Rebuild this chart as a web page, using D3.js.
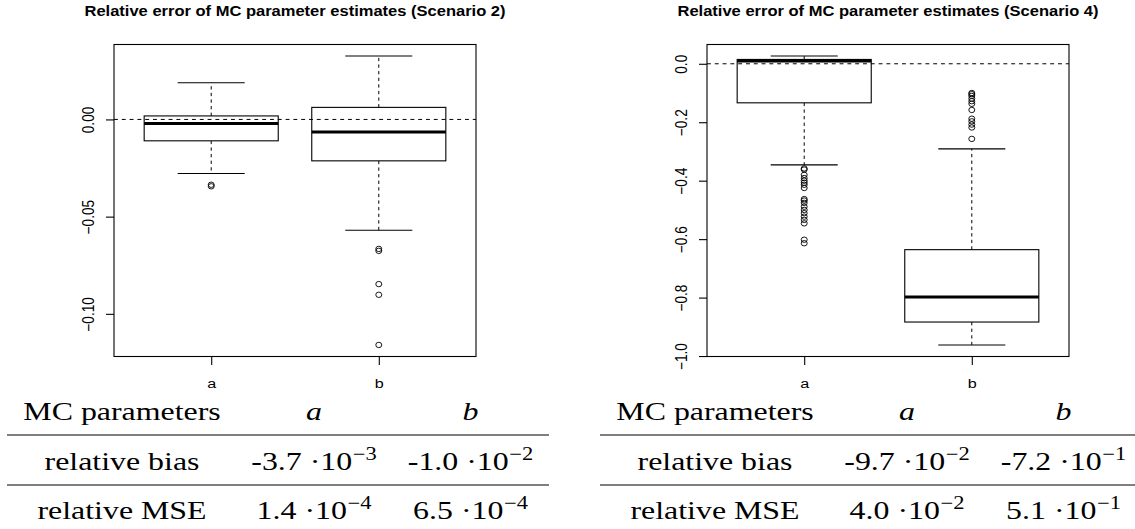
<!DOCTYPE html>
<html><head><meta charset="utf-8">
<script src="https://cdn.jsdelivr.net/npm/d3@7/dist/d3.min.js"></script>
<style>body{margin:0;background:#fff}svg{display:block}</style>
</head><body><svg id="c" width="1135" height="529"></svg>
<script>
// ---------------- data ----------------
const categories = ["a", "b"];
const titles = [
  "Relative error of MC parameter estimates (Scenario 2)",
  "Relative error of MC parameter estimates (Scenario 4)"
];
// box statistics per category: [lower whisker, Q1, median, Q3, upper whisker]
const s2Stats = [
  [-0.0278, -0.0110, -0.0021, 0.0018, 0.0189],
  [-0.0570, -0.0213, -0.0065, 0.0062, 0.0326]
];
const s2Outliers = [
  [-0.0336, -0.0344],
  [-0.0666, -0.0676, -0.0847, -0.0902, -0.1160]
];
const s4Stats = [
  [-0.346, -0.1336, 0.0091, 0.0148, 0.0264],
  [-0.962, -0.8836, -0.798, -0.636, -0.291]
];
const s4Outliers = [
  [-0.358, -0.362, -0.380, -0.391, -0.400, -0.407, -0.414, -0.425, -0.463, -0.468,
   -0.476, -0.489, -0.500, -0.511, -0.523, -0.534, -0.546, -0.602, -0.614],
  [-0.100, -0.104, -0.110, -0.119, -0.128, -0.137, -0.158, -0.188, -0.197, -0.208,
   -0.218, -0.257]
];
const s2Ticks = [0, -0.05, -0.10];
const s4Ticks = [0, -0.2, -0.4, -0.6, -0.8, -1.0];
const s2TickFormat = ".2f";
const s4TickFormat = ".1f";

const tableHeader = ["MC parameters", "a", "b"];
const rowLabels = ["relative bias", "relative MSE"];
// [mantissa, exponent] for a and b
const s2Bias = [["-3.7", "−3"], ["-1.0", "−2"]];
const s2MSE  = [["1.4", "−4"], ["6.5", "−4"]];
const s4Bias = [["-9.7", "−2"], ["-7.2", "−1"]];
const s4MSE  = [["4.0", "−2"], ["5.1", "−1"]];

// ---------------- drawing ----------------
const svg = d3.select("#c");
const SX = 1.18;   // horizontal stretch of the original plot text
const TSX = 1.25;  // horizontal stretch of the table text
const sansFont = "'Liberation Sans', Arial, Helvetica, sans-serif";
const serifFont = "'Liberation Serif', 'Times New Roman', serif";

function panel(x0, stats, outliers, ticks, fmt, title) {
  const L = x0, R = x0 + 362, T = 44.5, B = 356.5;
  const g = svg.append("g");
  const all = stats.flat().concat(outliers.flat());
  const [lo, hi] = d3.extent(all);
  const pad = (hi - lo) * 0.04;
  const y = d3.scaleLinear().domain([lo - pad, hi + pad]).range([B, T]);
  const x = d3.scaleLinear().domain([0.42, 2.58]).range([L, R]);

  categories.forEach((c, i) => {
    const [lw, q1, md, q3, uw] = stats[i];
    const cx = x(i + 1);
    const bg = g.append("g");
    bg.append("line").attr("x1", cx).attr("x2", cx).attr("y1", y(q3)).attr("y2", y(uw))
      .attr("stroke", "#000").attr("stroke-width", 1).attr("stroke-dasharray", "3.3,3.3");
    bg.append("line").attr("x1", cx).attr("x2", cx).attr("y1", y(q1)).attr("y2", y(lw))
      .attr("stroke", "#000").attr("stroke-width", 1).attr("stroke-dasharray", "3.3,3.3");
    [uw, lw].forEach(v => {
      bg.append("line").attr("x1", x(i + 1 - 0.2)).attr("x2", x(i + 1 + 0.2))
        .attr("y1", y(v)).attr("y2", y(v)).attr("stroke", "#000").attr("stroke-width", 1.1);
    });
    bg.append("rect").attr("x", x(i + 1 - 0.4)).attr("y", y(q3))
      .attr("width", x(i + 1 + 0.4) - x(i + 1 - 0.4)).attr("height", y(q1) - y(q3))
      .attr("fill", "#fff").attr("stroke", "#000").attr("stroke-width", 1.1);
    bg.append("line").attr("x1", x(i + 1 - 0.4)).attr("x2", x(i + 1 + 0.4))
      .attr("y1", y(md)).attr("y2", y(md)).attr("stroke", "#000").attr("stroke-width", 3);
    bg.selectAll("ellipse").data(outliers[i]).join("ellipse")
      .attr("cx", cx).attr("cy", d => y(d)).attr("rx", 3.0).attr("ry", 2.7)
      .attr("fill", "none").attr("stroke", "#000").attr("stroke-width", 0.9);
  });

  g.append("line").attr("x1", L).attr("x2", R).attr("y1", y(0)).attr("y2", y(0))
    .attr("stroke", "#000").attr("stroke-width", 1).attr("stroke-dasharray", "3.9,3.9");

  g.append("rect").attr("x", L).attr("y", T).attr("width", R - L).attr("height", B - T)
    .attr("fill", "none").attr("stroke", "#000").attr("stroke-width", 1.1);

  const ya = g.append("g").attr("transform", `translate(${L},0)`)
    .call(d3.axisLeft(y).tickValues(ticks).tickFormat(d3.format(fmt)).tickSize(8).tickSizeOuter(0));
  ya.select(".domain").remove();
  ya.selectAll("line").attr("stroke", "#000").attr("stroke-width", 1.1);
  ya.selectAll("text").attr("x", null).attr("dy", null)
    .attr("text-anchor", "middle").attr("fill", "#000")
    .attr("transform", `translate(-20.5,0) scale(${SX},1) rotate(-90)`);
  ya.attr("font-family", sansFont).attr("font-size", 13.7);

  const xa = g.append("g").attr("transform", `translate(0,${B})`)
    .call(d3.axisBottom(x).tickValues([1, 2]).tickFormat((d, i) => categories[i]).tickSize(8.5).tickSizeOuter(0));
  xa.select(".domain").remove();
  xa.selectAll("line").attr("stroke", "#000").attr("stroke-width", 1.1);
  xa.selectAll("text").attr("y", null).attr("dy", null).attr("fill", "#000")
    .attr("transform", `translate(0,31) scale(${SX},1)`);
  xa.attr("font-family", sansFont).attr("font-size", 13.7);

  g.append("text").attr("transform", `translate(${(L + R) / 2},16) scale(${SX},1)`)
    .attr("text-anchor", "middle").attr("font-family", sansFont).attr("font-weight", "bold")
    .attr("font-size", 14).text(title);
}

function table(x0, bias, mse) {
  const g = svg.append("g").attr("font-family", serifFont).attr("font-size", 25.5).attr("fill", "#000");
  const cols = [x0 + 115, x0 + 307, x0 + 463.5];
  const base = [420, 470, 519];
  const put = (cx, by) => g.append("text").attr("text-anchor", "middle")
    .attr("transform", `translate(${cx},${by}) scale(${TSX},1)`);
  put(cols[0], base[0]).text(tableHeader[0]);
  [1, 2].forEach(j => put(cols[j], base[0]).attr("font-style", "italic").text(tableHeader[j]));
  [435, 485].forEach(yy => g.append("line").attr("x1", x0).attr("x2", x0 + 542)
    .attr("y1", yy).attr("y2", yy).attr("stroke", "#555").attr("stroke-width", 1.7));
  [bias, mse].forEach((row, r) => {
    put(cols[0], base[r + 1]).text(rowLabels[r]);
    row.forEach((v, j) => {
      const t = put(cols[j + 1], base[r + 1]);
      t.append("tspan").text(v[0] + " ·10");
      t.append("tspan").attr("dx", 0.5).attr("dy", -10).attr("font-size", 18).text(v[1]);
    });
  });
}

panel(114, s2Stats, s2Outliers, s2Ticks, s2TickFormat, titles[0]);
panel(707, s4Stats, s4Outliers, s4Ticks, s4TickFormat, titles[1]);
table(7, s2Bias, s2MSE);
table(600, s4Bias, s4MSE);
</script></body></html>
